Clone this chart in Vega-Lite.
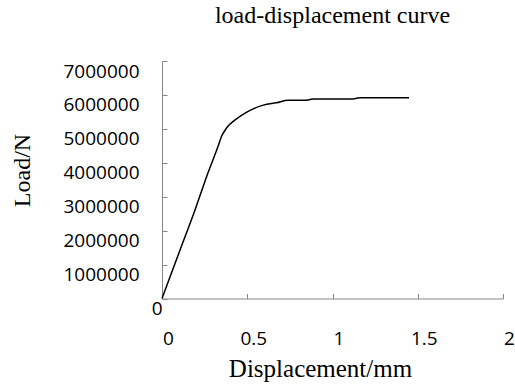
{
  "$schema": "https://vega.github.io/schema/vega-lite/v6.json",
  "width": 341,
  "height": 237.5,
  "autosize": "none",
  "padding": {"left": 162, "top": 61, "right": 12, "bottom": 89},
  "background": "white",
  "title": {
    "text": "load-displacement curve",
    "font": "Liberation Serif",
    "fontSize": 24,
    "fontWeight": "normal",
    "color": "#000000",
    "anchor": "middle",
    "baseline": "alphabetic",
    "offset": 14
  },
  "data": {
    "values": [
      {"d": 0, "load": 0},
      {"d": 0.1, "load": 1350000},
      {"d": 0.2, "load": 2700000},
      {"d": 0.271, "load": 3720000},
      {"d": 0.33, "load": 4500000},
      {"d": 0.35, "load": 4790000},
      {"d": 0.37, "load": 4960000},
      {"d": 0.389, "load": 5090000},
      {"d": 0.42, "load": 5230000},
      {"d": 0.447, "load": 5330000},
      {"d": 0.49, "load": 5470000},
      {"d": 0.535, "load": 5590000},
      {"d": 0.594, "load": 5700000},
      {"d": 0.672, "load": 5770000},
      {"d": 0.74, "load": 5840000},
      {"d": 0.838, "load": 5840000},
      {"d": 0.887, "load": 5880000},
      {"d": 1.121, "load": 5880000},
      {"d": 1.16, "load": 5920000},
      {"d": 1.449, "load": 5920000}
    ]
  },
  "mark": {"type": "line", "color": "#000000", "strokeWidth": 1.5, "interpolate": "monotone"},
  "encoding": {
    "x": {
      "field": "d",
      "type": "quantitative",
      "scale": {"domain": [0, 2], "nice": false},
      "axis": {
        "values": [0, 0.5, 1, 1.5, 2],
        "title": "Displacement/mm",
        "titleFont": "Liberation Serif",
        "titleFontSize": 25,
        "titleFontWeight": "normal",
        "titleColor": "#000000",
        "titleX": 158,
        "titleY": 78,
        "titleBaseline": "alphabetic",
        "titleAnchor": "middle",
        "labelFont": "Open Sans",
        "labelFontSize": 19,
        "labelColor": "#000000",
        "labelPadding": 36,
        "labelOffset": 6,
        "labelFlush": false,
        "labelExpr": "datum.value",
        "domainColor": "#868686",
        "tickColor": "#868686",
        "tickSize": -5,
        "grid": false
      }
    },
    "y": {
      "field": "load",
      "type": "quantitative",
      "scale": {"domain": [0, 7000000], "nice": false},
      "axis": {
        "values": [0, 1000000, 2000000, 3000000, 4000000, 5000000, 6000000, 7000000],
        "title": "Load/N",
        "titleFont": "Liberation Serif",
        "titleFontSize": 24,
        "titleFontWeight": "normal",
        "titleColor": "#000000",
        "titleX": -139.5,
        "titleY": 109,
        "titleBaseline": "middle",
        "titleAnchor": "middle",
        "labelFont": "Open Sans",
        "labelFontSize": 19,
        "labelColor": "#000000",
        "labelPadding": {"condition": {"test": "datum.value === 0", "value": 5}, "value": 28},
        "labelOffset": 10,
        "labelFlush": false,
        "labelExpr": "datum.value",
        "domainColor": "#868686",
        "tickColor": "#868686",
        "tickSize": -5,
        "grid": false
      }
    }
  },
  "config": {"view": {"stroke": null}}
}
